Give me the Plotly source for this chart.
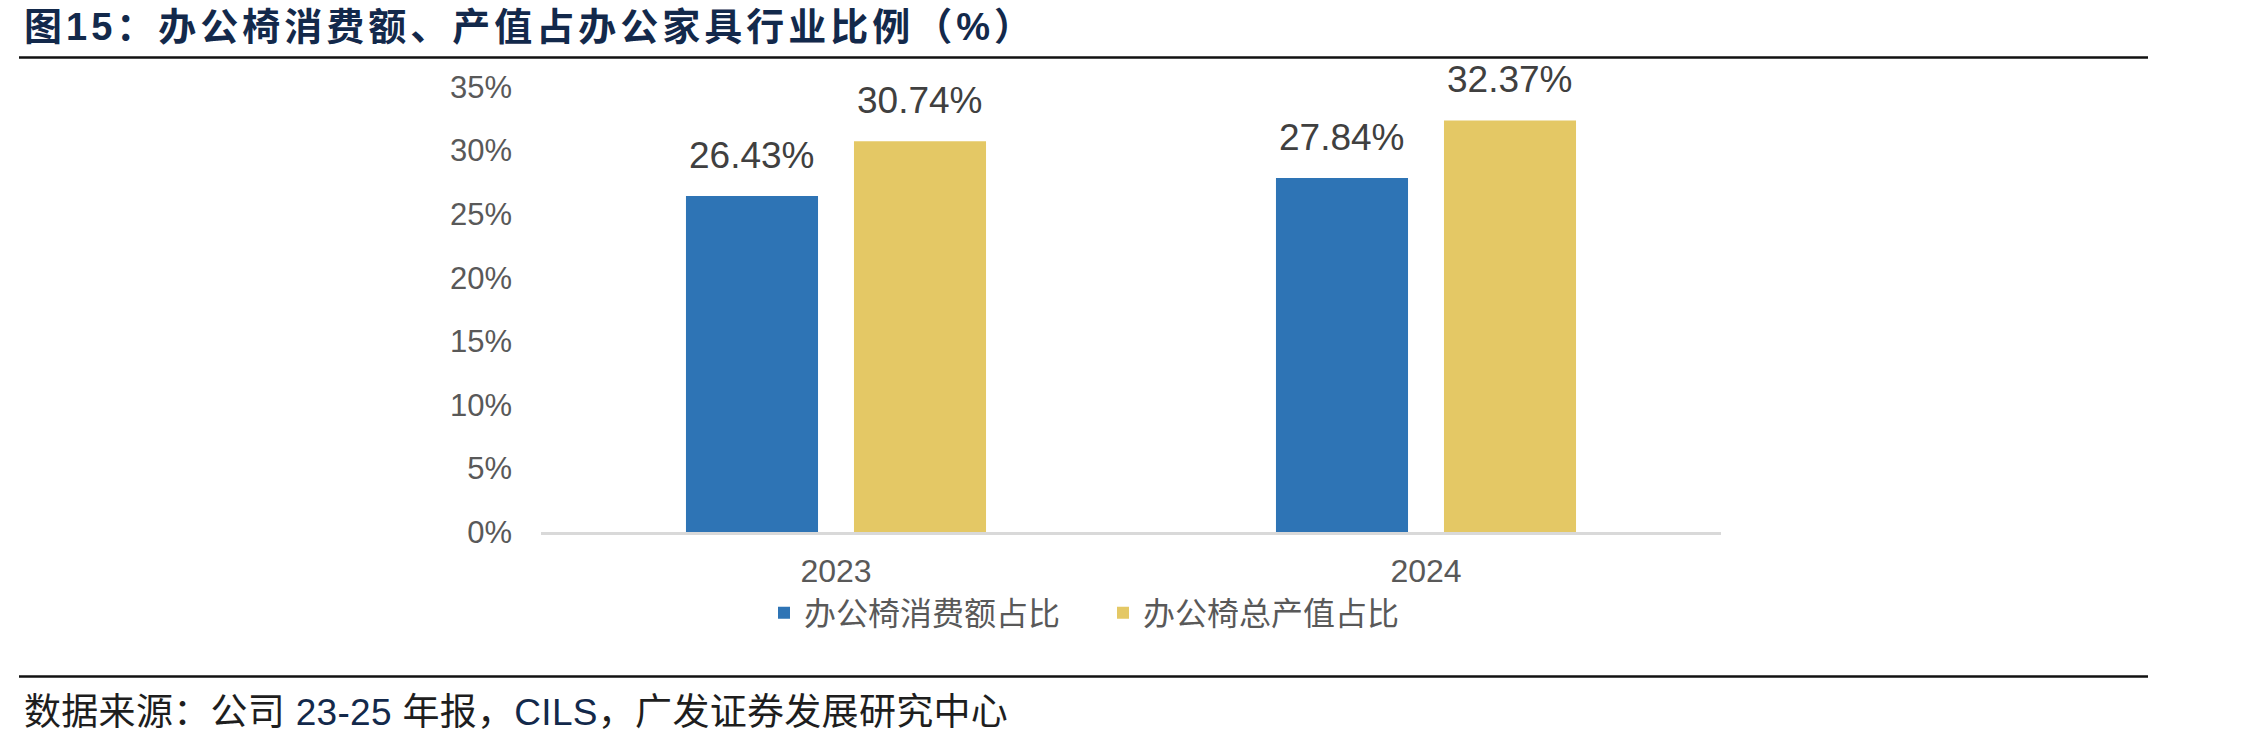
import plotly.graph_objects as go

# ---------------- data ----------------
categories = ["2023", "2024"]
consumption_share = [26.43, 27.84]   # 办公椅消费额占比 (%)
output_share = [30.74, 32.37]        # 办公椅总产值占比 (%)
series_names = ["办公椅消费额占比", "办公椅总产值占比"]
y_tick_values = [0, 5, 10, 15, 20, 25, 30, 35]
y_tick_labels = ["0%", "5%", "10%", "15%", "20%", "25%", "30%", "35%"]
title_text = "图15：办公椅消费额、产值占办公家具行业比例（%）"

# ---------------- style / layout ----------------
W, H = 2260, 745
L, R, T, B = 541, 1721, 87, 532          # plot area in pixels
BLUE = "#2E74B5"
GOLD = "#E4C865"
TICK_COLOR = "#595959"
LABEL_COLOR = "#404040"
NAVY = "#13294B"
LATIN = "Liberation Sans, Arial, Noto Sans CJK SC, sans-serif"
CJK = "Noto Sans CJK SC, Liberation Sans, sans-serif"
BARGAP = 0.4305
BARGROUPGAP = 0.214


def px_x(px):
    return (px - L) / (R - L)


def px_y(py):
    return (B - py) / (B - T)


fig = go.Figure()
for name, vals, col in [(series_names[0], consumption_share, BLUE),
                        (series_names[1], output_share, GOLD)]:
    fig.add_trace(go.Bar(x=categories, y=vals, name=name,
                         marker=dict(color=col, line=dict(width=0)),
                         hoverinfo="skip"))

# data labels above bars (x given as category index on the category axis)
cat_w = (R - L) / len(categories)
slot = cat_w * (1 - BARGAP) / 2
annotations = []
for j, vals in enumerate([consumption_share, output_share]):
    for i, v in enumerate(vals):
        annotations.append(dict(
            x=i, y=v, xref="x", yref="y", text=f"{v:.2f}%",
            showarrow=False, xanchor="center", yanchor="bottom",
            xshift=(j - 0.5) * slot, yshift=18,
            font=dict(family=LATIN, size=37, color=LABEL_COLOR)))

# title
annotations.append(dict(
    x=px_x(22), y=px_y(27), xref="paper", yref="paper",
    text="<b><span style='letter-spacing:4px'>" + title_text + "</span></b>",
    showarrow=False, xanchor="left", yanchor="middle",
    font=dict(family=LATIN, size=38, color=NAVY)))

# source footnote
cjk_c = "#1E1E1E"
src = ("<span style='letter-spacing:0.3px'>"
       "<span style='color:%s'>数据来源：公司 </span>23-25"
       "<span style='color:%s'> 年报，</span>CILS"
       "<span style='color:%s'>，广发证券发展研究中心</span></span>") % (cjk_c, cjk_c, cjk_c)
annotations.append(dict(
    x=px_x(22), y=px_y(712), xref="paper", yref="paper", text=src,
    showarrow=False, xanchor="left", yanchor="middle",
    font=dict(family=LATIN, size=37, color=NAVY)))

shapes = [
    dict(type="line", xref="paper", yref="paper", x0=px_x(19), x1=px_x(2148),
         y0=px_y(57.5), y1=px_y(57.5), line=dict(color="#111111", width=2.5)),
    dict(type="line", xref="paper", yref="paper", x0=px_x(19), x1=px_x(2148),
         y0=px_y(676.5), y1=px_y(676.5), line=dict(color="#111111", width=2.5)),
]

fig.update_layout(
    width=W, height=H, autosize=False,
    margin=dict(l=L, r=W - R, t=T, b=H - B, pad=0),
    paper_bgcolor="white", plot_bgcolor="white",
    barmode="group", bargap=BARGAP, bargroupgap=BARGROUPGAP,
    showlegend=True,
    legend=dict(orientation="h", x=px_x(764), xanchor="left",
                y=px_y(613), yanchor="middle",
                font=dict(family=CJK, size=32, color=TICK_COLOR),
                entrywidthmode="pixels", entrywidth=294,
                bgcolor="rgba(0,0,0,0)", borderwidth=0),
    annotations=annotations, shapes=shapes,
    xaxis=dict(type="category", range=[-0.5, len(categories) - 0.5],
               showline=True, linecolor="#D9D9D9", linewidth=3,
               showgrid=False, zeroline=False, ticks="",
               tickfont=dict(family=LATIN, size=32, color=TICK_COLOR),
               ticklabelstandoff=9),
    yaxis=dict(range=[0, 35], tickvals=y_tick_values, ticktext=y_tick_labels,
               showgrid=False, zeroline=False, showline=False, ticks="",
               tickfont=dict(family=LATIN, size=31, color=TICK_COLOR),
               ticklabelstandoff=28),
)

fig.write_html("out.html", config={"displayModeBar": False})
